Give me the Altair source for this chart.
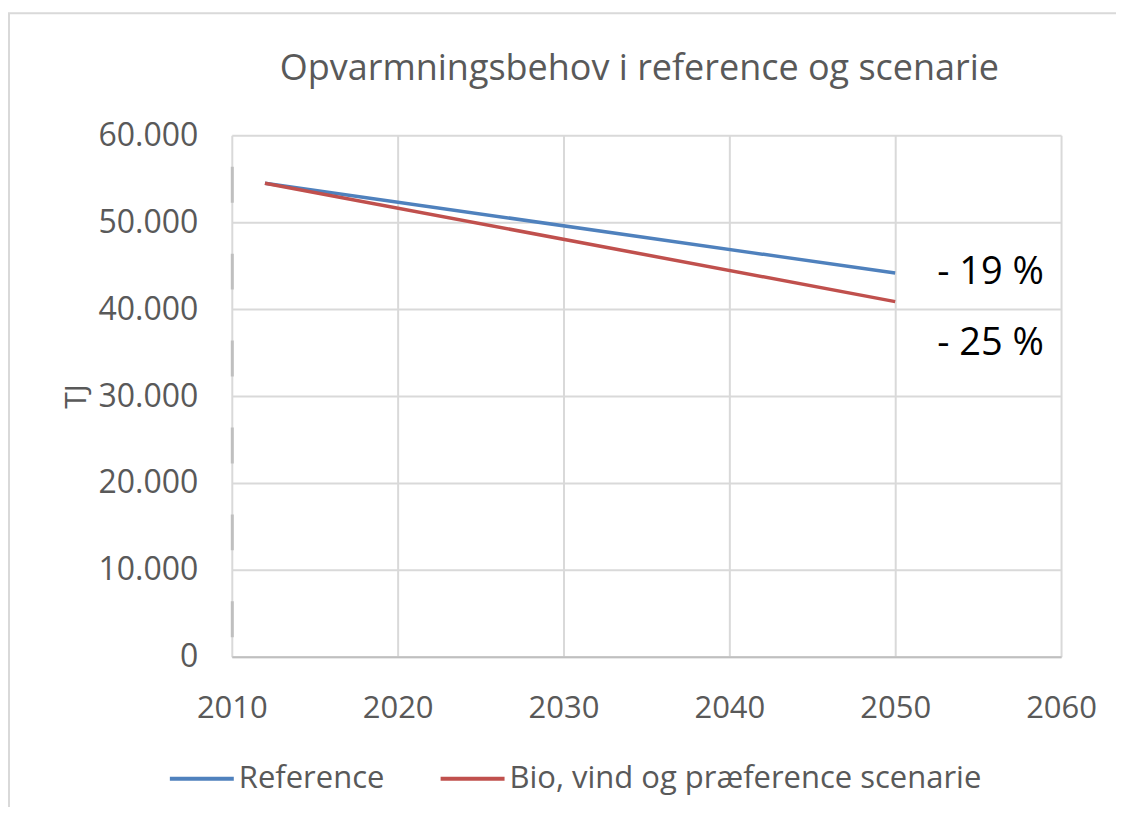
import altair as alt
import pandas as pd

years = [2012, 2050]
reference = [54480, 44140]
scenario = [54480, 40860]
series_names = ["Reference", "Bio, vind og præference scenarie"]
series_colors = ["#4f81bd", "#c0504d"]

ann_labels = ["- 19 %", "- 25 %"]
ann_year = [2050, 2050]
ann_value = [44140, 36000]

rows = []
for y, v in zip(years, reference):
    rows.append({"year": y, "value": v, "series": series_names[0]})
for y, v in zip(years, scenario):
    rows.append({"year": y, "value": v, "series": series_names[1]})
df = pd.DataFrame(rows)
ann = pd.DataFrame({"label": ann_labels, "year": ann_year, "value": ann_value})

FONT = "Open Sans"
GREY = "#595959"

xscale = alt.Scale(domain=[2010, 2060], nice=False)
yscale = alt.Scale(domain=[0, 60000], nice=False)

frame = alt.Chart(pd.DataFrame({"a": [0]})).mark_rect(
    filled=False, stroke="#d9d9d9", strokeWidth=2, clip=False
).encode(
    x=alt.value(-223), x2=alt.value(1000), y=alt.value(-122), y2=alt.value(800)
)

lines = alt.Chart(df).mark_line(strokeWidth=3.5, clip=False).encode(
    x=alt.X("year:Q", scale=xscale,
            axis=alt.Axis(values=[2010, 2020, 2030, 2040, 2050, 2060], format="d",
                          title=None, ticks=False, labelPadding=37, labelFlush=False,
                          domainColor="#bfbfbf", domainWidth=2,
                          gridColor="#d9d9d9", gridWidth=2)),
    y=alt.Y("value:Q", scale=yscale,
            axis=alt.Axis(values=[0, 10000, 20000, 30000, 40000, 50000, 60000],
                          labelExpr="replace(format(datum.value, ','), ',', '.')",
                          title="TJ", titleAngle=270, titleX=-155, titleY=261,
                          titleAlign="center", titleBaseline="middle",
                          titleFontSize=30, titleFontWeight="normal", titleColor=GREY,
                          ticks=False, labelPadding=34, labelFontSize=32,
                          domainColor="#bfbfbf", domainWidth=3,
                          domainDash=[36, 51], domainDashOffset=67,
                          gridColor="#d9d9d9", gridWidth=2)),
    color=alt.Color("series:N",
                    scale=alt.Scale(domain=series_names, range=series_colors),
                    sort=series_names,
                    legend=alt.Legend(title=None, orient="none", direction="horizontal",
                                      legendX=-64, legendY=610,
                                      symbolType="stroke", symbolSize=4096,
                                      symbolStrokeWidth=4, labelOffset=3,
                                      columnPadding=48, labelFontSize=31,
                                      labelFont=FONT, labelColor=GREY,
                                      labelLimit=1000)),
)

texts = alt.Chart(ann).mark_text(
    align="left", baseline="middle", dx=42, fontSize=38, font=FONT, color="#000000"
).encode(
    x=alt.X("year:Q", scale=xscale),
    y=alt.Y("value:Q", scale=yscale),
    text="label:N",
)

chart = alt.layer(frame, lines, texts).properties(
    width=830, height=522,
    title=alt.TitleParams("Opvarmningsbehov i reference og scenarie",
                          fontSize=36, font=FONT, fontWeight="normal", color=GREY,
                          anchor="middle", dx=-7, offset=-76),
    padding={"left": 224, "top": 127, "right": 55, "bottom": 150},
    autosize=alt.AutoSizeParams(type="none"),
).configure_axis(
    labelFont=FONT, labelFontSize=31, labelColor=GREY, titleFont=FONT
).configure_view(stroke=None)

chart.save("out.html", embed_options={"renderer": "svg", "actions": False})
